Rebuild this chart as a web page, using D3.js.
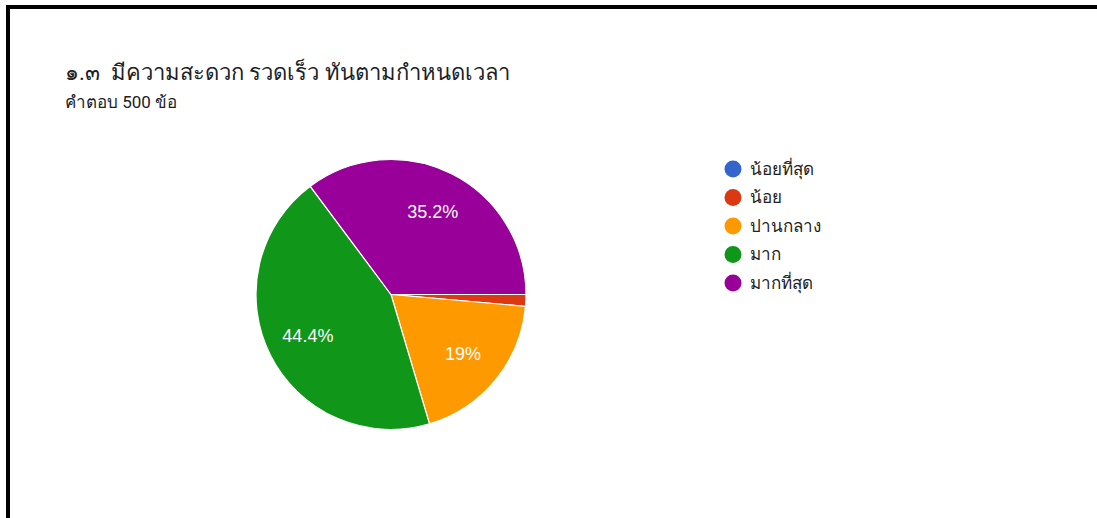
<!DOCTYPE html>
<html>
<head>
<meta charset="utf-8">
<script src="https://cdn.jsdelivr.net/npm/d3@7"></script>
<style>
  html, body { margin: 0; padding: 0; background: #fff; }
  svg { display: block; }
  text { white-space: pre; }
</style>
</head>
<body>
<svg id="chart" width="1097" height="518"></svg>
<script>
const titleText = "๑.๓  มีความสะดวก รวดเร็ว ทันตามกำหนดเวลา";
const subtitleText = "คำตอบ 500 ข้อ";
const categories = ["น้อยที่สุด", "น้อย", "ปานกลาง", "มาก", "มากที่สุด"];
const counts = [0, 7, 95, 222, 176];
const colors = ["#3366cc", "#dc3912", "#ff9900", "#109618", "#990099"];

const svg = d3.select("#chart");
const W = 1097, H = 518;

// frame
svg.append("rect").attr("x", 0).attr("y", 0).attr("width", W).attr("height", H).attr("fill", "#fff");
svg.append("path")
  .attr("d", `M8,${H} L8,7 L${W},7`)
  .attr("fill", "none").attr("stroke", "#000").attr("stroke-width", 4);

// title
svg.append("text").attr("x", 65).attr("y", 80)
  .attr("font-family", "Roboto, 'Noto Sans', sans-serif")
  .attr("font-size", 22).attr("fill", "#202124").text(titleText);
svg.append("text").attr("x", 65).attr("y", 108)
  .attr("font-family", "Roboto, 'Noto Sans', sans-serif")
  .attr("font-size", 17).attr("fill", "#202124").text(subtitleText);

// pie
const cx = 391, cy = 294.5, R = 135;
const total = d3.sum(counts);
const data = categories.map((c, i) => ({ cat: c, value: counts[i], color: colors[i] }));
const pie = d3.pie().value(d => d.value).sort(null)
  .startAngle(Math.PI / 2).endAngle(Math.PI / 2 + 2 * Math.PI);
const arcs = pie(data);
const arc = d3.arc().innerRadius(0).outerRadius(R);
const labelArc = d3.arc().innerRadius(93).outerRadius(93);

const g = svg.append("g").attr("transform", `translate(${cx},${cy})`);
g.selectAll("path.slice").data(arcs.filter(d => d.value > 0)).join("path")
  .attr("class", "slice")
  .attr("d", arc)
  .attr("fill", d => d.data.color)
  .attr("stroke", "#fff").attr("stroke-width", 1.2);

const fmt = v => {
  const p = Math.round(v / total * 1000) / 10;
  return (Number.isInteger(p) ? p.toFixed(0) : p.toFixed(1)) + "%";
};
g.selectAll("text.pct").data(arcs.filter(d => d.value / total >= 0.05)).join("text")
  .attr("class", "pct")
  .attr("x", d => labelArc.centroid(d)[0])
  .attr("y", d => labelArc.centroid(d)[1])
  .attr("dy", "0.35em")
  .attr("text-anchor", "middle")
  .attr("font-family", "Arial, 'Liberation Sans', sans-serif")
  .attr("font-size", 18).attr("fill", "#fff")
  .text(d => fmt(d.value));

// legend
const legend = svg.append("g");
const rowY = d3.scalePoint().domain(categories).range([169, 283]);
const items = legend.selectAll("g").data(data).join("g")
  .attr("transform", d => `translate(733,${rowY(d.cat)})`);
items.append("circle").attr("r", 8.5).attr("fill", d => d.color);
items.append("text").attr("x", 17).attr("dy", "0.35em")
  .attr("font-family", "Roboto, 'Noto Sans', sans-serif")
  .attr("font-size", 17).attr("fill", "#222")
  .text(d => d.cat);
</script>
</body>
</html>
